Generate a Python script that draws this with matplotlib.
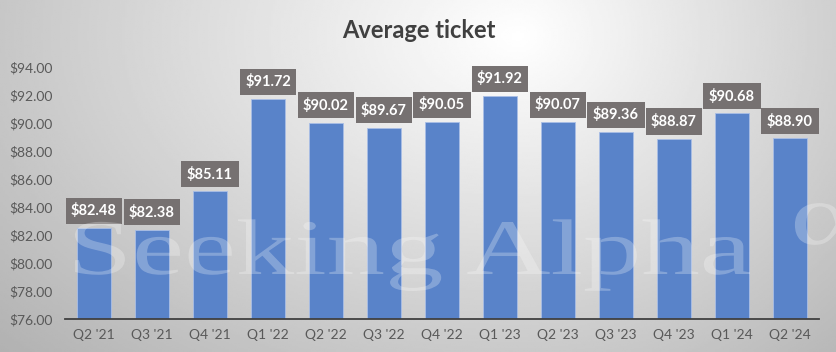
import numpy as np
import matplotlib.pyplot as plt
from matplotlib.textpath import TextPath
from matplotlib.patches import PathPatch
from matplotlib.font_manager import FontProperties
from matplotlib.transforms import Affine2D

quarters = ["Q2 '21", "Q3 '21", "Q4 '21", "Q1 '22", "Q2 '22", "Q3 '22", "Q4 '22",
            "Q1 '23", "Q2 '23", "Q3 '23", "Q4 '23", "Q1 '24", "Q2 '24"]
ticket = [82.48, 82.38, 85.11, 91.72, 90.02, 89.67, 90.05,
          91.92, 90.07, 89.36, 88.87, 90.68, 88.90]
y_ticks = np.arange(76, 95, 2)

plt.rcParams['font.family'] = ['Lato', 'DejaVu Sans']

W, H = 837, 352
fig = plt.figure(figsize=(W / 100, H / 100), dpi=100)

# radial gradient background, white spot near the top, a bit right of centre
bg = fig.add_axes([0, 0, 1, 1], zorder=-10)
xx, yy = np.meshgrid(np.linspace(0, 1, 400), np.linspace(0, 1, 200))
dx = np.where(xx < 0.62, (xx - 0.62) / 0.62, (xx - 0.62) / 0.45)
dy = (yy - 0.9) / 0.95
shade = np.clip(1.0 - 0.22 * np.sqrt(dx ** 2 + dy ** 2), 0, 1)
bg.imshow(shade, cmap="gray", vmin=0, vmax=1, extent=[0, 1, 0, 1],
          origin="lower", aspect="auto")
bg.axis("off")

ax = fig.add_axes([65 / W, 1 - 319 / H, 754 / W, 252 / H])
ax.patch.set_alpha(0)
x = np.arange(len(quarters))
ax.bar(x, ticket, width=0.6, color="#5983C9", edgecolor="#A9BEE6",
       linewidth=0.6, zorder=2)

for xi, v in zip(x, ticket):
    ax.annotate(f"${v:.2f}", (xi, v), xytext=(0, 12.5), textcoords="offset points",
                ha="center", va="center", fontsize=10.5, fontweight="bold",
                color="white", zorder=4,
                bbox=dict(boxstyle="square,pad=0.38", fc="#767171", ec="none"))

ax.set_ylim(76, 94)
ax.set_xlim(-0.5, len(quarters) - 0.5)
ax.set_yticks(y_ticks)
ax.set_yticklabels([f"${t:.2f}" for t in y_ticks])
ax.set_xticks(x)
ax.set_xticklabels(quarters)
ax.tick_params(length=0, labelsize=10, colors="#595959", pad=7)
ax.tick_params(axis="y", pad=9)
for s in ["top", "right", "left"]:
    ax.spines[s].set_visible(False)
ax.spines["bottom"].set_color("#404040")
ax.spines["bottom"].set_linewidth(1.3)
ax.spines["bottom"].set_zorder(3)

fig.text(0.5, 1 - 30 / H, "Average ticket", ha="center", va="center",
         fontsize=17, fontweight="bold", color="#404040")

# watermark, stretched wide like the original
fp = FontProperties(family="Liberation Serif")
wm = TextPath((0, 0), "Seeking Alpha", size=1, prop=fp)
ext = wm.get_extents()
sx = (750 - 75) / ext.width
sy = 52 / 0.66
tr = Affine2D().translate(-ext.x0, 0).scale(sx, sy).translate(75, H - 274)
fig.patches.append(PathPatch(tr.transform_path(wm), fc="white", ec="none",
                             alpha=0.26, transform=None, zorder=5))
al = TextPath((0, 0), "α", size=1, prop=fp)
tr2 = Affine2D().scale(sx * 1.1, sy * 1.1).translate(790, H - 244)
fig.patches.append(PathPatch(tr2.transform_path(al), fc="white", ec="none",
                             alpha=0.26, transform=None, zorder=5))

fig.savefig("out.png", dpi=100)
